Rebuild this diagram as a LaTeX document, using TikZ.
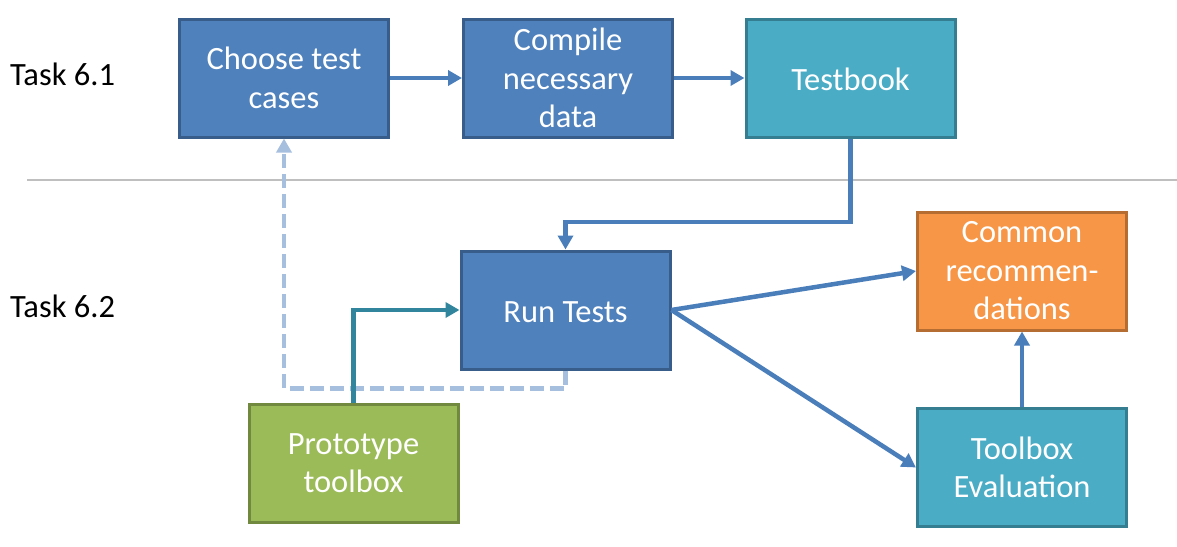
\documentclass[tikz,border=0pt]{standalone}
\usepackage{fontspec}
\setmainfont{Carlito}
\usetikzlibrary{arrows.meta}
\definecolor{bfill}{HTML}{4F81BD}
\definecolor{bdraw}{HTML}{385D8A}
\definecolor{tfill}{HTML}{4BACC6}
\definecolor{tdraw}{HTML}{357D91}
\definecolor{ofill}{HTML}{F79646}
\definecolor{odraw}{HTML}{B66D31}
\definecolor{gfill}{HTML}{9BBB59}
\definecolor{gdraw}{HTML}{71893F}
\definecolor{arrblue}{HTML}{4A7EBB}
\definecolor{arrteal}{HTML}{31859C}
\definecolor{arrlight}{HTML}{A7BFDE}
\definecolor{sepgrey}{HTML}{BFBFBF}
\tikzset{
  box/.style={draw, line width=3pt, minimum width=209pt, minimum height=118pt,
    align=center, text=white, font=\fontsize{32.5}{38.5}\selectfont, inner sep=1pt},
  oneline/.style={execute at begin node={\rule{0pt}{34pt}},
    execute at end node={\rule[-9.4pt]{0pt}{9.4pt}}},
  bluebox/.style={box, fill=bfill, draw=bdraw},
  tealbox/.style={box, fill=tfill, draw=tdraw},
  orangebox/.style={box, fill=ofill, draw=odraw},
  greenbox/.style={box, fill=gfill, draw=gdraw},
  tip/.style={-{Triangle[length=14pt,width=15pt]}},
  arr/.style={draw=arrblue, line width=4.5pt, tip},
  tarr/.style={draw=arrteal, line width=4.5pt, tip},
  darr/.style={draw=arrlight, line width=4.5pt, dash pattern=on 14pt off 6pt, tip},
  tasklabel/.style={anchor=base west, font=\fontsize{32.5}{38.5}\selectfont, inner sep=0pt},
}
\begin{document}
\begin{tikzpicture}[x=1pt, y=-1pt]
\useasboundingbox (0,0) rectangle (1177,546);
\draw[sepgrey, line width=1.5pt] (27,180) -- (1177,180);
\node[tasklabel] (t1) at (10,85) {Task 6.1};
\node[tasklabel] (t2) at (10,317) {Task 6.2};
\node[bluebox] (choose) at (284,78) {Choose test\\cases};
\node[bluebox] (compile) at (568,78) {Compile\\necessary\\data};
\node[tealbox, oneline] (testbook) at (850.5,78) {Testbook};
\node[bluebox, oneline] (run) at (565.5,310) {Run Tests};
\node[orangebox] (common) at (1022,271) {Common\\recommen-\\dations};
\node[greenbox] (proto) at (353.5,463) {Prototype\\toolbox};
\node[tealbox] (toolev) at (1022,467.5) {Toolbox\\Evaluation};
\draw[arr] (choose.east) -- (compile.west);
\draw[arr] (compile.east) -- (testbook.west);
\draw[arr] (testbook.south) -- ++(0,83.5) -| (run.north);
\draw[darr] (run.south) -- ++(0,18) -| (choose.south);
\draw[tarr] (proto.north) |- (run.west);
\draw[arr] (run.east) -- (common.west);
\draw[arr] (run.east) -- (toolev.west);
\draw[arr] (toolev.north) -- (common.south);
\end{tikzpicture}
\end{document}
